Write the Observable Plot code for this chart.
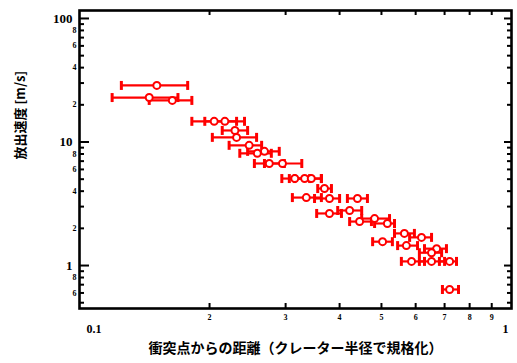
<!DOCTYPE html>
<html>
<head>
<meta charset="utf-8">
<script src="https://cdn.jsdelivr.net/npm/d3@7"></script>
<script src="https://cdn.jsdelivr.net/npm/@observablehq/plot@0.6"></script>
<style>
  body { margin: 0; background: #fff; }
</style>
</head>
<body>
<div id="chart"></div>
<script>
// Ejecta: distance from impact point (normalised by crater radius) vs ejection speed [m/s]
const dist   = [0.151, 0.145, 0.164, 0.205, 0.217, 0.229, 0.231, 0.247, 0.258, 0.268, 0.275, 0.295,
                0.315, 0.332, 0.344, 0.369, 0.335, 0.379, 0.440, 0.422, 0.379, 0.445, 0.482, 0.516,
                0.565, 0.619, 0.503, 0.571, 0.671, 0.653, 0.587, 0.653, 0.719, 0.719];
const distLo = [0.125, 0.119, 0.145, 0.182, 0.195, 0.214, 0.203, 0.222, 0.235, 0.245, 0.254, 0.268,
                0.294, 0.306, 0.315, 0.356, 0.311, 0.350, 0.417, 0.396, 0.354, 0.422, 0.450, 0.482,
                0.536, 0.581, 0.477, 0.545, 0.629, 0.612, 0.556, 0.612, 0.681, 0.692];
const distHi = [0.178, 0.169, 0.182, 0.231, 0.241, 0.245, 0.257, 0.264, 0.278, 0.290, 0.298, 0.327,
                0.341, 0.363, 0.363, 0.383, 0.363, 0.400, 0.464, 0.450, 0.404, 0.474, 0.522, 0.536,
                0.596, 0.653, 0.530, 0.606, 0.707, 0.689, 0.629, 0.700, 0.746, 0.754];
const speed  = [28.7, 22.9, 21.7, 14.7, 14.7, 12.4, 10.9, 9.4, 8.1, 8.4, 6.7, 6.7,
                5.06, 5.06, 5.06, 4.2, 3.55, 3.49, 3.49, 2.79, 2.64, 2.27, 2.40, 2.19,
                1.82, 1.69, 1.56, 1.45, 1.37, 1.27, 1.08, 1.08, 1.08, 0.64];

// Axis ticks and labels
const xMinorTicks  = [0.2, 0.3, 0.4, 0.5, 0.6, 0.7, 0.8, 0.9];
const xMinorLabels = ["2", "3", "4", "5", "6", "7", "8", "9"];
const xLowLabel  = "0.1";
const xHighLabel = "1";
const yMajorTicks  = [1, 10, 100];
const yMajorLabels = ["1", "10", "100"];
const yMinorTicks  = [0.5, 0.6, 0.7, 0.8, 0.9, 2, 3, 4, 5, 6, 7, 8, 9, 20, 30, 40, 50, 60, 70, 80, 90];
const yMinorLabelTicks = [0.6, 0.8, 2, 4, 6, 8, 20, 40, 60, 80];
const yMinorLabels     = ["6", "8", "2", "4", "6", "8", "2", "4", "6", "8"];

const xTitle = "衝突点からの距離（クレーター半径で規格化）";
const yTitle = "放出速度 [m/s]";

const rows = dist.map((d, i) => ({dist: d, lo: distLo[i], hi: distHi[i], speed: speed[i]}));

const W = 517, H = 363;
const mL = 79, mR = 6, mT = 10, mB = 55;
const fw = W - mL - mR, fh = H - mT - mB;
const red = "#ff0000";
const numFont = "'Liberation Serif', 'DejaVu Serif', serif";
const jpFont = "'Noto Sans CJK JP', sans-serif";

// vertical bar used as the error-bar end cap
const capSymbol = { draw(ctx) { ctx.moveTo(0, -4.5); ctx.lineTo(0, 4.5); } };

const chart = Plot.plot({
  width: W, height: H,
  marginLeft: mL, marginRight: mR, marginTop: mT, marginBottom: mB,
  x: { type: "log", domain: [0.1, 1], axis: null },
  y: { type: "log", domain: [0.449, 116], axis: null },
  style: { background: "#fff" },
  marks: [
    // inward ticks on all four sides
    Plot.tickX(xMinorTicks, { x: d => d, insetTop: fh - 5, stroke: "#000", strokeWidth: 2 }),
    Plot.tickX(xMinorTicks, { x: d => d, insetBottom: fh - 5, stroke: "#000", strokeWidth: 2 }),
    Plot.tickY(yMinorTicks, { y: d => d, insetRight: fw - 5, stroke: "#000", strokeWidth: 2 }),
    Plot.tickY(yMinorTicks, { y: d => d, insetLeft: fw - 4, stroke: "#000", strokeWidth: 2 }),
    Plot.tickY(yMajorTicks, { y: d => d, insetRight: fw - 10, stroke: "#000", strokeWidth: 2 }),
    Plot.tickY(yMajorTicks, { y: d => d, insetLeft: fw - 7, stroke: "#000", strokeWidth: 2 }),
    Plot.frame({ stroke: "#000", strokeWidth: 2.6 }),

    // x tick labels
    Plot.text(xMinorTicks, { x: d => d, text: (d, i) => xMinorLabels[i], frameAnchor: "bottom", dy: 11,
      fontSize: 8, fontWeight: "bold", fontFamily: numFont, fill: "#000" }),
    Plot.text([xLowLabel], { text: d => d, frameAnchor: "bottom-left", dx: 7, dy: 24,
      fontSize: 12, fontWeight: "bold", fontFamily: numFont, fill: "#000" }),
    Plot.text([xHighLabel], { text: d => d, frameAnchor: "bottom-right", dx: -3, dy: 24,
      fontSize: 12, fontWeight: "bold", fontFamily: numFont, fill: "#000" }),
    // y tick labels
    Plot.text(yMajorTicks, { y: d => d, text: (d, i) => yMajorLabels[i], frameAnchor: "left", dx: -7,
      textAnchor: "end", fontSize: 13, fontWeight: "bold", fontFamily: numFont, fill: "#000" }),
    Plot.text(yMinorLabelTicks, { y: d => d, text: (d, i) => yMinorLabels[i], frameAnchor: "left", dx: -3,
      textAnchor: "end", fontSize: 8, fontWeight: "bold", fontFamily: numFont, fill: "#000" }),

    // axis titles
    Plot.text([xTitle], { text: d => d, frameAnchor: "bottom", dy: 44,
      fontSize: 14, fontWeight: "bold", fontFamily: jpFont, fill: "#000" }),
    Plot.text([yTitle], { text: d => d, frameAnchor: "left", dx: -59, rotate: -90,
      fontSize: 13, fontWeight: "bold", fontFamily: jpFont, fill: "#000" }),

    // horizontal error bars with end caps
    Plot.link(rows, { x1: "lo", x2: "hi", y1: "speed", y2: "speed", stroke: red, strokeWidth: 2.2 }),
    Plot.dot(rows, { x: "lo", y: "speed", symbol: capSymbol, stroke: red, strokeWidth: 3 }),
    Plot.dot(rows, { x: "hi", y: "speed", symbol: capSymbol, stroke: red, strokeWidth: 3 }),
    // measured points
    Plot.dot(rows, { x: "dist", y: "speed", r: 3.5, stroke: red, strokeWidth: 2, fill: "#fff" })
  ]
});

document.getElementById("chart").appendChild(chart);
</script>
</body>
</html>
